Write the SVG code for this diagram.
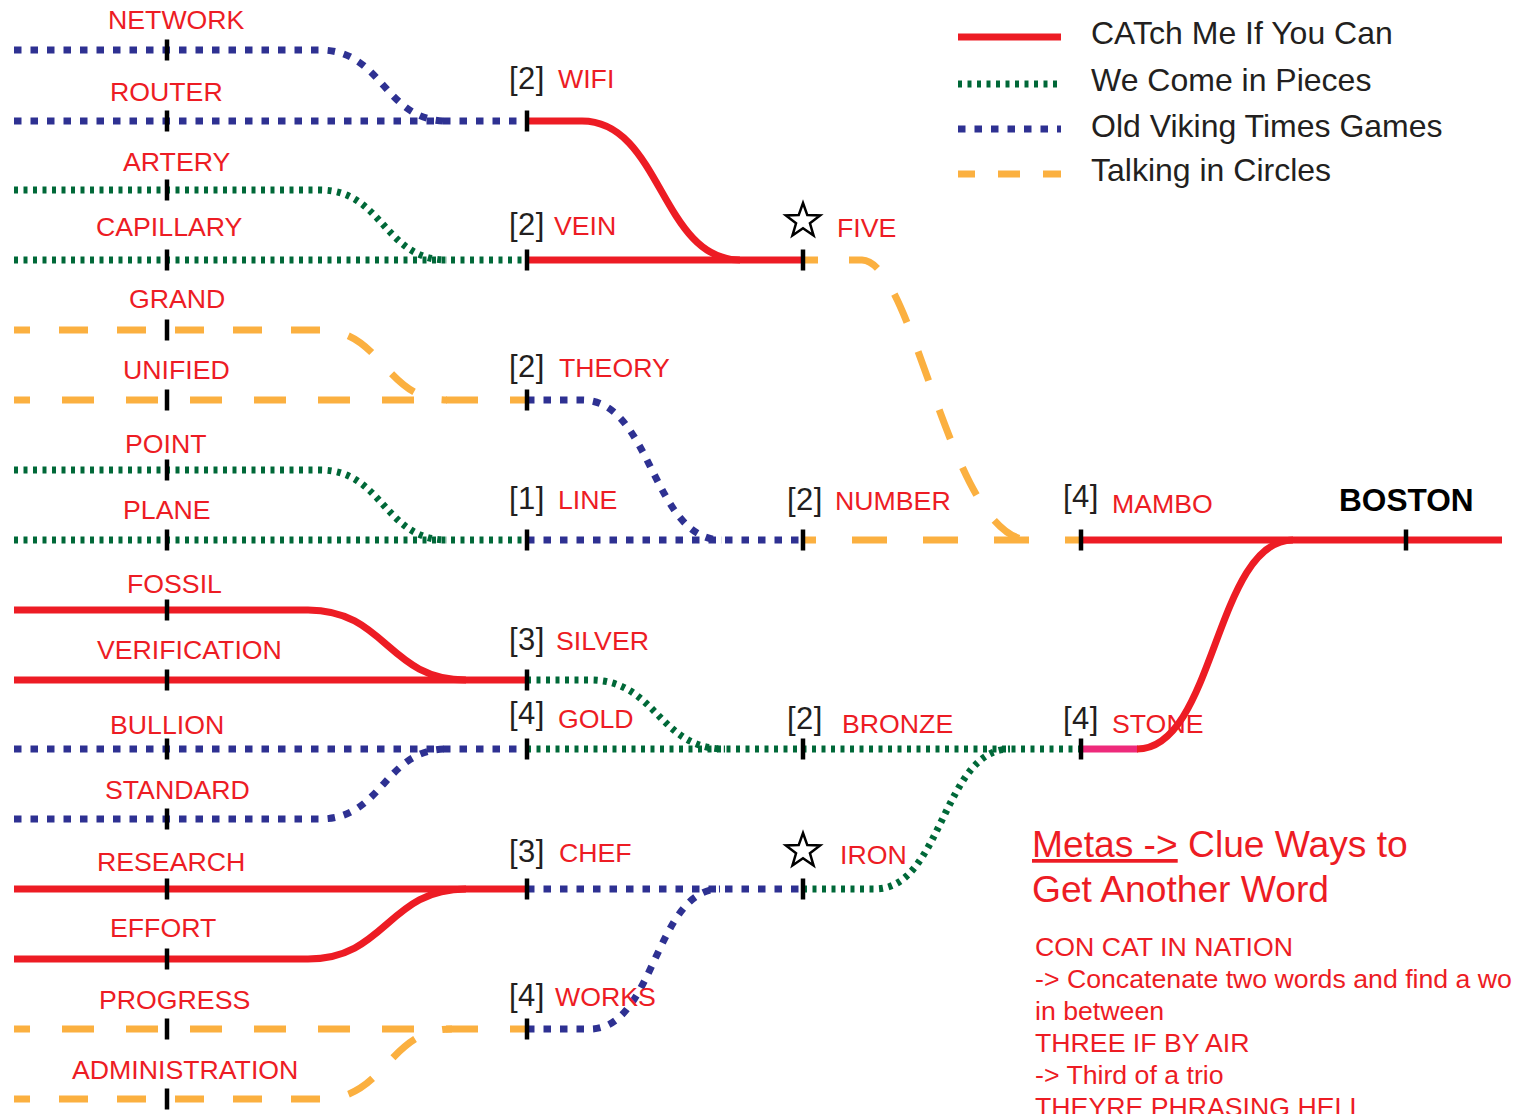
<svg xmlns="http://www.w3.org/2000/svg" width="1513" height="1114" viewBox="0 0 1513 1114">
<style>
.red{stroke:#ED1C24;stroke-width:7;fill:none}
.pnk{stroke:#EE2A7B;stroke-width:7;fill:none}
.grn{stroke:#006838;stroke-width:7;fill:none;stroke-dasharray:4 5.5}
.blu{stroke:#2E3192;stroke-width:7;fill:none;stroke-dasharray:7.5 9}
.org{stroke:#FBB040;stroke-width:7;fill:none}
.o29{stroke-dasharray:29 29;stroke-dashoffset:13}
.o32{stroke-dasharray:32 32;stroke-dashoffset:16}
.o35{stroke-dasharray:35 36;stroke-dashoffset:22}
.tick{stroke:#000;stroke-width:4.5}
text{font-family:"Liberation Sans",Arial,Helvetica,sans-serif}
.lbl{font-size:26.7px;fill:#ED1C24}
.num{font-size:31px;fill:#231F20;letter-spacing:0.5px}
.leg{font-size:32px;fill:#231F20}
.big{font-size:37.2px;fill:#ED1C24}
.boston{font-size:31.6px;font-weight:bold;fill:#000}
.star{fill:#fff;stroke:#000;stroke-width:2.5;stroke-linejoin:miter}
</style>
<defs>
<path id="star" d="M0,-18 L4.29,-5.91 L17.12,-5.56 L6.94,2.26 L10.58,14.56 L0,7.3 L-10.58,14.56 L-6.94,2.26 L-17.12,-5.56 L-4.29,-5.91 Z"/>
</defs>
<rect width="1513" height="1114" fill="#fff"/>

<g id="legend">
<line x1="958" y1="37" x2="1061" y2="37" class="red"/>
<line x1="958" y1="84" x2="1061" y2="84" class="grn"/>
<line x1="958" y1="129" x2="1061" y2="129" class="blu"/>
<line x1="958" y1="174" x2="1061" y2="174" class="org" stroke-dasharray="22 23" stroke-dashoffset="5"/>
<text class="leg" x="1091" y="44">CATch Me If You Can</text>
<text class="leg" x="1091" y="91">We Come in Pieces</text>
<text class="leg" x="1091" y="137">Old Viking Times Games</text>
<text class="leg" x="1091" y="181">Talking in Circles</text>
</g>

<g id="connectors">
<path class="blu" d="M14,50 H320 C383,50 384,121 447,121"/>
<path class="blu" d="M14,121 H527"/>
<path class="grn" d="M14,190 H320 C383,190 384,260 447,260"/>
<path class="grn" d="M14,260 H527"/>
<path class="org o29" d="M14,330 H320 C383,330 384,400 447,400"/>
<path class="org o32" d="M14,400 H527"/>
<path class="grn" d="M14,470 H320 C383,470 384,540 447,540"/>
<path class="grn" d="M14,540 H527"/>
<path class="red" d="M14,610 H308 C386,610 388,680 466,680"/>
<path class="red" d="M14,680 H527"/>
<path class="blu" d="M14,749 H527"/>
<path class="blu" d="M14,819 H320 C383,819 384,749 447,749"/>
<path class="red" d="M14,889 H527"/>
<path class="red" d="M14,959 H308 C386,959 388,889 466,889"/>
<path class="org o32" d="M14,1029 H527"/>
<path class="org o29" d="M14,1099 H322 C386,1099 388,1029 452,1029"/>

<path class="red" d="M527,121 H582 C661,121 661,260 740,260"/>
<path class="red" d="M527,260 H803"/>
<path class="org" stroke-dasharray="31 31" stroke-dashoffset="16" d="M803,260 H862 C915,262 950,540 1030,540"/>
<path class="blu" d="M527,400 H582 C652,400 652,540 722,540"/>
<path class="blu" d="M527,540 H803"/>
<path class="org o35" d="M803,540 H1081"/>
<path class="grn" d="M527,680 H590 C657,680 658,749 725,749"/>
<path class="grn" d="M527,749 H1081"/>
<path class="blu" d="M527,889 H803"/>
<path class="blu" d="M527,1029 H590 C655,1029 655,889 720,889"/>
<path class="grn" d="M803,889 H875 C942,889 943,749 1010,749"/>
<path class="pnk" d="M1081,749 H1138"/>
<path class="red" d="M1137,749 C1215,749 1215,540 1293,540"/>
<path class="red" d="M1081,540 H1502"/>
</g>

<g id="network"><line class="tick" x1="167" y1="39.5" x2="167" y2="60.5"/><text class="lbl" x="108" y="29">NETWORK</text></g>
<g id="router"><line class="tick" x1="167" y1="110.5" x2="167" y2="131.5"/><text class="lbl" x="110" y="101">ROUTER</text></g>
<g id="artery"><line class="tick" x1="167" y1="179.5" x2="167" y2="200.5"/><text class="lbl" x="123" y="171">ARTERY</text></g>
<g id="capillary"><line class="tick" x1="167" y1="249.5" x2="167" y2="270.5"/><text class="lbl" x="96" y="236">CAPILLARY</text></g>
<g id="grand"><line class="tick" x1="167" y1="319.5" x2="167" y2="340.5"/><text class="lbl" x="129" y="308">GRAND</text></g>
<g id="unified"><line class="tick" x1="167" y1="389.5" x2="167" y2="410.5"/><text class="lbl" x="123" y="379">UNIFIED</text></g>
<g id="point"><line class="tick" x1="167" y1="459.5" x2="167" y2="480.5"/><text class="lbl" x="125" y="453">POINT</text></g>
<g id="plane"><line class="tick" x1="167" y1="529.5" x2="167" y2="550.5"/><text class="lbl" x="123" y="519">PLANE</text></g>
<g id="fossil"><line class="tick" x1="167" y1="599.5" x2="167" y2="620.5"/><text class="lbl" x="127" y="593">FOSSIL</text></g>
<g id="verification"><line class="tick" x1="167" y1="669.5" x2="167" y2="690.5"/><text class="lbl" x="97" y="659">VERIFICATION</text></g>
<g id="bullion"><line class="tick" x1="167" y1="738.5" x2="167" y2="759.5"/><text class="lbl" x="110" y="734">BULLION</text></g>
<g id="standard"><line class="tick" x1="167" y1="808.5" x2="167" y2="829.5"/><text class="lbl" x="105" y="799">STANDARD</text></g>
<g id="research"><line class="tick" x1="167" y1="878.5" x2="167" y2="899.5"/><text class="lbl" x="97" y="871">RESEARCH</text></g>
<g id="effort"><line class="tick" x1="167" y1="948.5" x2="167" y2="969.5"/><text class="lbl" x="110" y="937">EFFORT</text></g>
<g id="progress"><line class="tick" x1="167" y1="1018.5" x2="167" y2="1039.5"/><text class="lbl" x="99" y="1009">PROGRESS</text></g>
<g id="administration"><line class="tick" x1="167" y1="1088.5" x2="167" y2="1109.5"/><text class="lbl" x="72" y="1079">ADMINISTRATION</text></g>

<g id="wifi"><line class="tick" x1="527" y1="110.5" x2="527" y2="131.5"/><text class="num" x="509" y="89">[2]</text><text class="lbl" x="558" y="88">WIFI</text></g>
<g id="vein"><line class="tick" x1="527" y1="249.5" x2="527" y2="270.5"/><text class="num" x="509" y="235">[2]</text><text class="lbl" x="554" y="235">VEIN</text></g>
<g id="theory"><line class="tick" x1="527" y1="389.5" x2="527" y2="410.5"/><text class="num" x="509" y="377">[2]</text><text class="lbl" x="559" y="377">THEORY</text></g>
<g id="line"><line class="tick" x1="527" y1="529.5" x2="527" y2="550.5"/><text class="num" x="509" y="509">[1]</text><text class="lbl" x="558" y="509">LINE</text></g>
<g id="silver"><line class="tick" x1="527" y1="669.5" x2="527" y2="690.5"/><text class="num" x="509" y="650">[3]</text><text class="lbl" x="556" y="650">SILVER</text></g>
<g id="gold"><line class="tick" x1="527" y1="738.5" x2="527" y2="759.5"/><text class="num" x="509" y="724">[4]</text><text class="lbl" x="558" y="728">GOLD</text></g>
<g id="chef"><line class="tick" x1="527" y1="878.5" x2="527" y2="899.5"/><text class="num" x="509" y="862">[3]</text><text class="lbl" x="559" y="862">CHEF</text></g>
<g id="works"><line class="tick" x1="527" y1="1018.5" x2="527" y2="1039.5"/><text class="num" x="509" y="1006">[4]</text><text class="lbl" x="555" y="1006">WORKS</text></g>

<g id="five"><line class="tick" x1="803" y1="249.5" x2="803" y2="270.5"/><use href="#star" class="star" x="803" y="221"/><text class="lbl" x="837" y="237">FIVE</text></g>
<g id="number"><line class="tick" x1="803" y1="529.5" x2="803" y2="550.5"/><text class="num" x="787" y="510">[2]</text><text class="lbl" x="835" y="510">NUMBER</text></g>
<g id="bronze"><line class="tick" x1="803" y1="738.5" x2="803" y2="759.5"/><text class="num" x="787" y="729">[2]</text><text class="lbl" x="842" y="733">BRONZE</text></g>
<g id="iron"><line class="tick" x1="803" y1="878.5" x2="803" y2="899.5"/><use href="#star" class="star" x="803" y="851"/><text class="lbl" x="840" y="864">IRON</text></g>

<g id="mambo"><line class="tick" x1="1081" y1="529.5" x2="1081" y2="550.5"/><text class="num" x="1063" y="507">[4]</text><text class="lbl" x="1112" y="513">MAMBO</text></g>
<g id="stone"><line class="tick" x1="1081" y1="738.5" x2="1081" y2="759.5"/><text class="num" x="1063" y="729">[4]</text><text class="lbl" x="1112" y="733">STONE</text></g>
<g id="boston"><line class="tick" x1="1406" y1="529.5" x2="1406" y2="550.5"/><text class="boston" x="1339" y="511">BOSTON</text></g>

<g id="notes">
<text class="big" x="1032" y="857"><tspan text-decoration="underline">Metas -&gt;</tspan> Clue Ways to</text>
<text class="big" x="1032" y="902">Get Another Word</text>
<text class="lbl" x="1035" y="956">CON CAT IN NATION</text>
<text class="lbl" x="1035" y="988">-&gt; Concatenate two words and find a word</text>
<text class="lbl" x="1035" y="1020">in between</text>
<text class="lbl" x="1035" y="1052">THREE IF BY AIR</text>
<text class="lbl" x="1035" y="1084">-&gt; Third of a trio</text>
<text class="lbl" x="1035" y="1116">THEYRE PHRASING HELL</text>
</g>
</svg>
